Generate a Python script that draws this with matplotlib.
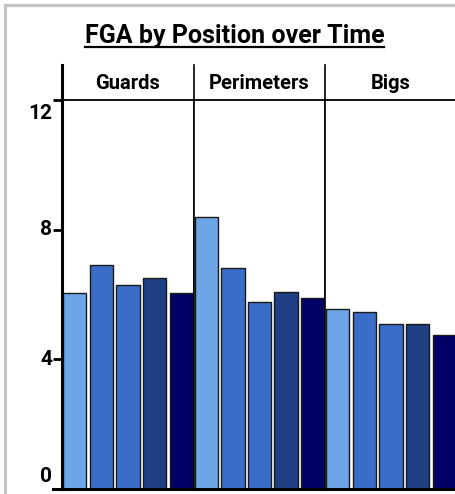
import matplotlib.pyplot as plt
from matplotlib.patches import Rectangle
from matplotlib.lines import Line2D
from matplotlib.transforms import ScaledTranslation

# data
positions = ['Guards', 'Perimeters', 'Bigs']
guards = [6.04, 6.92, 6.30, 6.51, 6.04]
perimeters = [8.38, 6.82, 5.77, 6.08, 5.88]
bigs = [5.56, 5.46, 5.10, 5.10, 4.74]
bar_colors = ['#6ca6e6', '#3a6dc8', '#3a6dc8', '#1f3f85', '#000066']
yticks = [0, 4, 8, 12]

plt.rcParams['font.family'] = ['Roboto', 'DejaVu Sans']

W, H = 456, 494
fig = plt.figure(figsize=(W / 100, H / 100), dpi=100)

# gray frame (figure is a crop of a larger panel)
fig.patches.append(Rectangle((5.5 / W, -0.1), 1.2, (H - 5) / H + 0.1,
                             transform=fig.transFigure, fill=False,
                             edgecolor='#c4c4c4', linewidth=2.3))

x_edges = [62, 194, 325, 457]
y_bottom, y_top, y_strip = 489, 100, 65

all_vals = [guards, perimeters, bigs]
for i, (name, vals) in enumerate(zip(positions, all_vals)):
    l = x_edges[i] / W
    w = (x_edges[i + 1] - x_edges[i]) / W
    b = (H - y_bottom) / H
    h = (y_bottom - y_top) / H
    ax = fig.add_axes([l, b, w, h])
    ax.bar(range(len(vals)), vals, width=0.87, color=bar_colors,
           edgecolor='#1a1a1a', linewidth=1.0)
    ax.set_xlim(-0.47, len(vals) - 1 + 0.47)
    ax.set_ylim(0, 12)
    ax.set_xticks([])
    for s in ['top', 'right', 'left', 'bottom']:
        ax.spines[s].set_color('black')
    ax.spines['top'].set_linewidth(1.3)
    ax.spines['bottom'].set_linewidth(2.2)
    ax.spines['right'].set_linewidth(1.2)
    ax.spines['left'].set_linewidth(2.2 if i == 0 else 1.2)
    if i == 0:
        ax.set_yticks(yticks)
        ax.tick_params(axis='y', length=6.5, width=2, labelleft=False)
        # labels flushed inside the axis range, like the original
        shifts = {0: 13, 12: -13.5}
        for t in yticks:
            tr = ax.get_yaxis_transform() + ScaledTranslation(
                -10 / 100, shifts.get(t, 0) / 100, fig.dpi_scale_trans)
            ax.text(0, t, str(t), transform=tr, ha='right', va='center',
                    fontsize=15, fontweight='bold')
    else:
        ax.set_yticks([])

    # strip header
    sax = fig.add_axes([l, (H - y_top) / H, w, (y_top - y_strip) / H])
    sax.set_xticks([])
    sax.set_yticks([])
    for s in ['top', 'right', 'bottom']:
        sax.spines[s].set_visible(False)
    sax.spines['left'].set_linewidth(2.2 if i == 0 else 1.2)
    sax.patch.set_alpha(0)
    sax.text(0.5, 0.47, name, ha='center', va='center', fontsize=14.5,
             fontweight='bold', transform=sax.transAxes)

# bottom line runs a bit past the y axis, like a tick
fig.lines.append(Line2D([53 / W, 62 / W], [(H - y_bottom) / H] * 2,
                        transform=fig.transFigure, color='black', linewidth=2.2))

title = fig.text(234.5 / W, (H - 43) / H, 'FGA by Position over Time',
                 ha='center', va='baseline', fontsize=18, fontweight='bold')
fig.canvas.draw()
bb = title.get_window_extent()
fig.lines.append(Line2D([bb.x0 / W, bb.x1 / W], [(H - 47.5) / H] * 2,
                        transform=fig.transFigure, color='black', linewidth=1.6))

fig.savefig('out.png', dpi=100)
